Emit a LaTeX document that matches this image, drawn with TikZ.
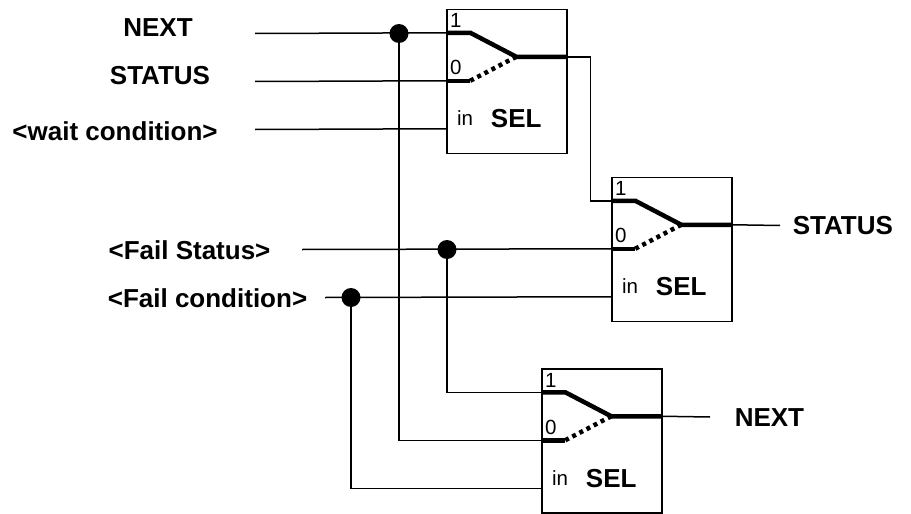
\documentclass[tikz,border=0pt]{standalone}
\usepackage{fontspec}
\setmainfont{Liberation Sans}
\usetikzlibrary{calc,positioning}

\begin{document}
\begin{tikzpicture}[x=1pt,y=-1pt,line width=1.5pt,
	selbox/.style={draw,rectangle,minimum width=120pt,minimum height=144pt,inner sep=0pt},
	sigtext/.style={font=\fontsize{26}{30}\selectfont\bfseries,inner sep=0pt},
	pintext/.style={font=\fontsize{20.5}{24}\selectfont,inner sep=0pt,anchor=base west},
	swline/.style={line width=4.5pt},
	junction/.style={circle,fill,inner sep=0pt,minimum size=19pt}]
	\useasboundingbox (0,0) rectangle (911,514);
	% the three selectors
	\node[selbox] (sel1) at (507,81.5) {};
	\node[selbox] (sel2) at (672,249.5) {};
	\node[selbox] (sel3) at (602,441) {};
	\foreach \s in {sel1,sel2,sel3} {
		\coordinate (\s-in1) at ($(\s.north west)+(0,24)$);
		\coordinate (\s-in0) at ($(\s.north west)+(0,72)$);
		\coordinate (\s-inS) at ($(\s.north west)+(0,120)$);
		\coordinate (\s-out) at ($(\s.north west)+(120,48)$);
		\coordinate (\s-piv) at ($(\s.north west)+(70,48)$);
		\draw[swline] (\s-in1) -- ++(24,0) -- (\s-piv) -- (\s-out);
		\draw[swline] (\s-in0) -- ++(24,0) coordinate (\s-k0);
		\draw[swline,dash pattern=on 4pt off 4pt] (\s-k0) -- (\s-piv);
		\node[pintext] (\s-one) at ($(\s.north west)+(3,19)$) {1};
		\node[pintext] (\s-zero) at ($(\s.north west)+(3,66)$) {0};
		\node[pintext] (\s-in) at ($(\s.north west)+(10,117)$) {in};
		\node[sigtext,anchor=base] (\s-name) at ($(\s.north west)+(70,119)$) {SEL};
	}
	% input signals
	\node[sigtext] (next in) at (158,28) {NEXT};
	\node[sigtext] (status in) at (160,76) {STATUS};
	\node[sigtext] (wait in) at (115,131) {<wait condition>};
	\node[sigtext] (failstat in) at (189.5,250) {<Fail Status>};
	\node[sigtext] (failcond in) at (207.5,298) {<Fail condition>};
	\coordinate (next start) at (255,33.5);
	\coordinate (status start) at (255,81.5);
	\coordinate (wait start) at (255,129.5);
	\coordinate (failstat start) at (302,249.5);
	\coordinate (failcond start) at (325,297.5);
	\node[junction] (next dot) at (399,33.5) {};
	\node[junction] (failstat dot) at (447,249.5) {};
	\node[junction] (failcond dot) at (351,297.5) {};
	% wiring
	\draw (next start) -- (sel1-in1);
	\draw (status start) -- (sel1-in0);
	\draw (wait start) -- (sel1-inS);
	\draw (next dot.center) |- (sel3-in0);
	\draw (sel1-out) -- ++(24,0) |- (sel2-in1);
	\draw (failstat start) -- (sel2-in0);
	\draw (failstat dot.center) |- (sel3-in1);
	\draw (failcond start) -- (sel2-inS);
	\draw (failcond dot.center) |- (sel3-inS);
	% outputs
	\coordinate (status end) at (780,225.5);
	\coordinate (next end) at (710,417);
	\draw (sel2-out) -- (status end);
	\draw (sel3-out) -- (next end);
	\node[sigtext,anchor=west] (status out) at (792,226) {STATUS};
	\node[sigtext,anchor=west] (next out) at (734,417.5) {NEXT};
\end{tikzpicture}
\end{document}
